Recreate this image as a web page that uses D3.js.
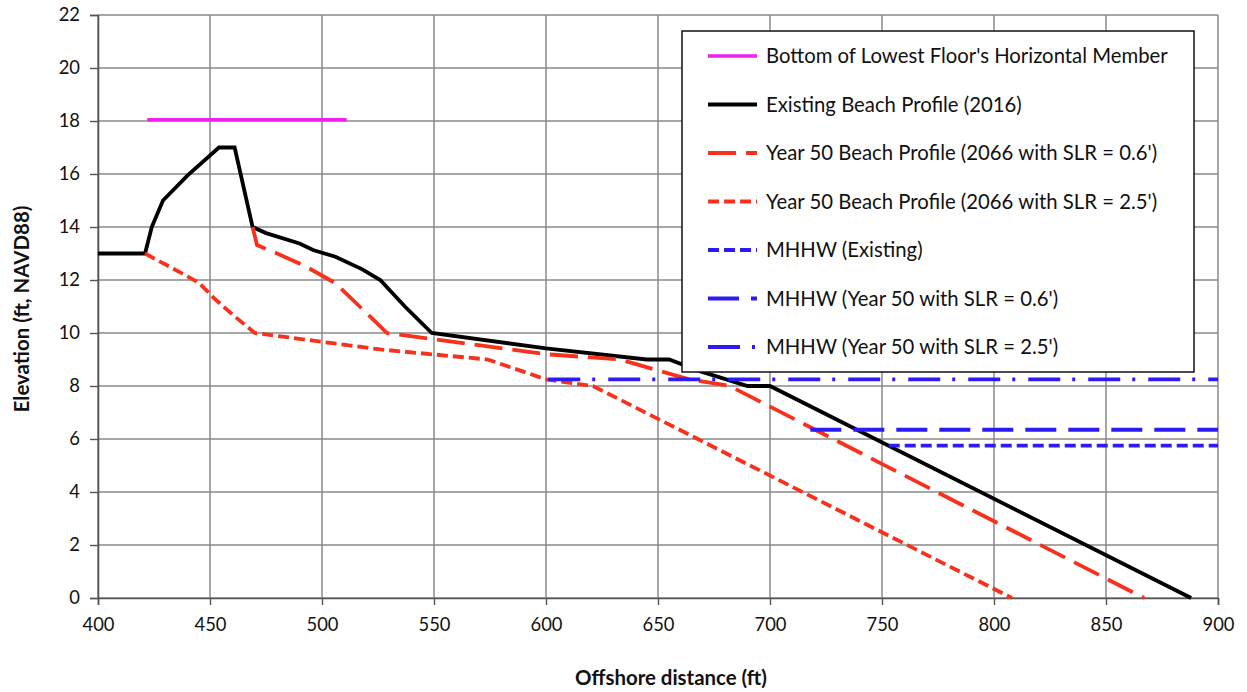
<!DOCTYPE html>
<html><head><meta charset="utf-8">
<script src="https://cdn.jsdelivr.net/npm/d3@7"></script>
<style>body{margin:0;background:#fff}svg{display:block}text{font-family:Lato,"Open Sans",sans-serif}</style>
</head><body><svg id="c" width="1247" height="692"></svg>
<script>
const xTicks = [400,450,500,550,600,650,700,750,800,850,900];
const yTicks = [0,2,4,6,8,10,12,14,16,18,20,22];
const xTitle = "Offshore distance (ft)";
const yTitle = "Elevation (ft, NAVD88)";

const floorMember = [[422,18.05],[511,18.05]];
const existing = [[400,13],[421,13],[424,14],[429,15],[440,15.95],[454,17],[461,17],[469,14],[475,13.77],[490,13.38],[496,13.13],[506,12.88],[518,12.4],[526,12],[537,11],[549,10],[600,9.42],[645,9],[655,9],[669,8.55],[690,8],[700,8],[888,0]];
const year50a = [[469,14],[471,13.32],[480,13],[493,12.5],[506,11.88],[520,10.74],[529,10],[600,9.2],[633,9],[664,8.25],[682,8],[867,0]];
const year50b = [[421,13],[432,12.5],[445,11.9],[452,11.3],[460,10.7],[470,10],[526,9.38],[574,9],[600,8.25],[621,8],[808,0]];
const mhhwExisting = [[753,5.75],[900,5.75]];
const mhhw06 = [[718,6.35],[900,6.35]];
const mhhw25 = [[601,8.25],[900,8.25]];

const seriesNames = ["Bottom of Lowest Floor's Horizontal Member","Existing Beach Profile (2016)","Year 50 Beach Profile (2066 with SLR = 0.6')","Year 50 Beach Profile (2066 with SLR = 2.5')","MHHW (Existing)","MHHW (Year 50 with SLR = 0.6')","MHHW (Year 50 with SLR = 2.5')"];

const RED="#f8311c", BLUE="#2c1cf2", MAG="#f021f0";
const series = [
 {data:floorMember, color:MAG, w:3.6, dash:null},
 {data:existing, color:"#000", w:3.8, dash:null},
 {data:year50a, color:RED, w:3.8, dash:"28,10"},
 {data:year50b, color:RED, w:3.8, dash:"11,5"},
 {data:mhhwExisting, color:BLUE, w:3.8, dash:"11,5"},
 {data:mhhw06, color:BLUE, w:3.8, dash:"31,12"},
 {data:mhhw25, color:BLUE, w:3.8, dash:"32,12,3,13"}
];

const svg = d3.select("#c");
const L=98,R=1218,T=15,B=598;
const x = d3.scaleLinear().domain([400,900]).range([L,R]);
const y = d3.scaleLinear().domain([0,22]).range([B,T]);

function fitSize(str, target, weight){
  const t = svg.append("text").attr("font-size",20).attr("font-weight",weight||"normal").text(str);
  const w = t.node().getComputedTextLength(); t.remove();
  return 20*target/w;
}
const legendFs = fitSize(seriesNames[0], 402);
const tickFs = fitSize("650", 32);
const titleFs = fitSize(xTitle, 192, "bold");

// grid
svg.append("g").selectAll("line").data(xTicks).join("line")
 .attr("x1",d=>x(d)).attr("x2",d=>x(d)).attr("y1",T).attr("y2",B)
 .attr("stroke","#8a8a8a").attr("stroke-width",1.5);
svg.append("g").selectAll("line").data(yTicks).join("line")
 .attr("x1",L).attr("x2",R).attr("y1",d=>y(d)).attr("y2",d=>y(d))
 .attr("stroke","#8a8a8a").attr("stroke-width",1.5);

// axes
const xa = svg.append("g").attr("transform",`translate(0,${B})`)
 .call(d3.axisBottom(x).tickValues(xTicks).tickSize(7).tickPadding(13).tickFormat(d3.format("d")));
const ya = svg.append("g").attr("transform",`translate(${L},0)`)
 .call(d3.axisLeft(y).tickValues(yTicks).tickSize(8).tickPadding(10).tickFormat(d3.format("d")));
[xa,ya].forEach(a=>{a.select(".domain").attr("stroke","#555").attr("stroke-width",1.6);
 a.selectAll(".tick line").attr("stroke","#555").attr("stroke-width",1.4);
 a.selectAll("text").attr("font-size",tickFs).attr("fill","#111").attr("font-family","Lato");});

// lines
const line = d3.line().x(d=>x(d[0])).y(d=>y(d[1]));
series.forEach(s=>{
 svg.append("path").datum(s.data).attr("d",line).attr("fill","none")
  .attr("stroke",s.color).attr("stroke-width",s.w)
  .attr("stroke-dasharray",s.dash).attr("stroke-linejoin","miter").attr("stroke-linecap","butt");
});

// titles
svg.append("text").attr("x",671).attr("y",685).attr("text-anchor","middle")
 .attr("font-size",titleFs).attr("font-weight","bold").attr("fill","#111").text(xTitle);
svg.append("text").attr("transform","translate(29,309) rotate(-90)").attr("text-anchor","middle")
 .attr("font-size",titleFs).attr("font-weight","bold").attr("fill","#111").text(yTitle);

// legend
const lg = svg.append("g");
lg.append("rect").attr("x",682).attr("y",31).attr("width",512).attr("height",341)
 .attr("fill","#fff").attr("stroke","#111").attr("stroke-width",1.5);
seriesNames.forEach((n,i)=>{
 const yy = 56 + i*48.5;
 const s = series[i];
 lg.append("line").attr("x1",708).attr("x2",757).attr("y1",yy).attr("y2",yy)
  .attr("stroke",s.color).attr("stroke-width",s.w).attr("stroke-dasharray",s.dash);
 lg.append("text").attr("x",766).attr("y",yy).attr("dy","0.36em").attr("font-size",legendFs).attr("fill","#111").text(n);
});
</script></body></html>
